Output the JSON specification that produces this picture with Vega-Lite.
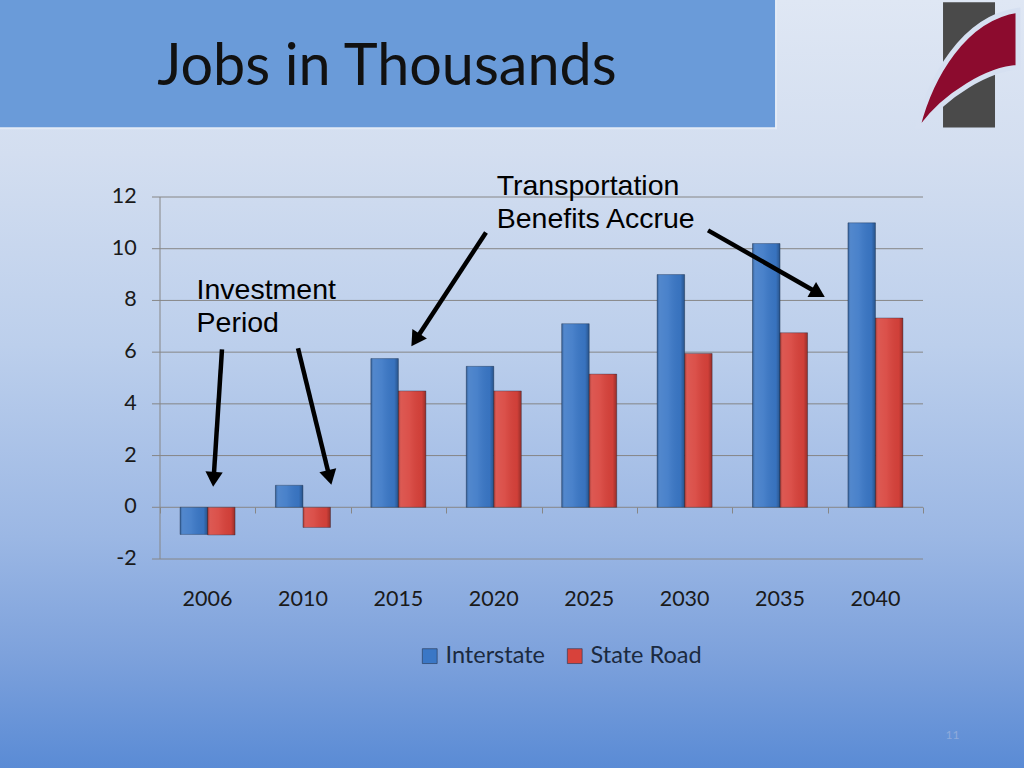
{
  "$schema": "https://vega.github.io/schema/vega-lite/v6.json",
  "width": 1024,
  "height": 768,
  "autosize": {"type": "none"},
  "padding": 0,
  "background": "#5a8bd5",
  "config": {
    "view": {
      "stroke": null,
      "fill": {
        "gradient": "linear", "x1": 0, "y1": 0, "x2": 0, "y2": 1,
        "stops": [
          {"offset": 0, "color": "#dfe7f4"},
          {"offset": 0.2, "color": "#d3def0"},
          {"offset": 0.45, "color": "#bccfec"},
          {"offset": 0.7, "color": "#9bb7e4"},
          {"offset": 0.85, "color": "#7ea2dc"},
          {"offset": 1, "color": "#5a8bd5"}
        ]
      }
    }
  },
  "datasets": {
    "jobs": [
      {"year": "2006", "series": "Interstate", "jobs": -1.05},
      {"year": "2006", "series": "State Road", "jobs": -1.07},
      {"year": "2010", "series": "Interstate", "jobs": 0.85},
      {"year": "2010", "series": "State Road", "jobs": -0.78},
      {"year": "2015", "series": "Interstate", "jobs": 5.75},
      {"year": "2015", "series": "State Road", "jobs": 4.5},
      {"year": "2020", "series": "Interstate", "jobs": 5.45},
      {"year": "2020", "series": "State Road", "jobs": 4.5},
      {"year": "2025", "series": "Interstate", "jobs": 7.1},
      {"year": "2025", "series": "State Road", "jobs": 5.15},
      {"year": "2030", "series": "Interstate", "jobs": 9.0},
      {"year": "2030", "series": "State Road", "jobs": 5.95},
      {"year": "2035", "series": "Interstate", "jobs": 10.2},
      {"year": "2035", "series": "State Road", "jobs": 6.75},
      {"year": "2040", "series": "Interstate", "jobs": 11.0},
      {"year": "2040", "series": "State Road", "jobs": 7.32}
    ],
    "grid": [{"v": -2}, {"v": 0}, {"v": 2}, {"v": 4}, {"v": 6}, {"v": 8}, {"v": 10}, {"v": 12}],
    "arrows": [
      {"note": "Investment Period", "x": 0.65, "y": 6.11, "x2": 0.562, "y2": 1.08},
      {"note": "Investment Period", "x": 1.447, "y": 6.15, "x2": 1.778, "y2": 1.15},
      {"note": "Transportation Benefits Accrue", "x": 3.418, "y": 10.63, "x2": 2.679, "y2": 6.47},
      {"note": "Transportation Benefits Accrue", "x": 5.746, "y": 10.71, "x2": 6.902, "y2": 8.28}
    ],
    "notes": [
      {"label": "Investment\nPeriod", "x": 0.383, "y": 8.04},
      {"label": "Transportation\nBenefits Accrue", "x": 3.53, "y": 12.06}
    ]
  },
  "resolve": {"scale": {"x": "independent"}, "axis": {"x": "independent"}},
  "layer": [
    {
      "layer": [
        {
          "data": {"values": [{"x": -1.7, "x2": 6.459, "y": 19.7, "y2": 14.66}]},
          "mark": {"type": "rect", "fill": "#6a9bd9", "stroke": "#e3ebf6", "strokeWidth": 2, "clip": false},
          "encoding": {
            "x": {"field": "x", "type": "quantitative", "scale": {"domain": [0, 8], "range": [160, 923], "nice": false, "zero": false},
                  "axis": {"orient": "bottom", "offset": -261, "values": [0, 1, 2, 3, 4, 5, 6, 7, 8], "labels": false, "domain": false, "grid": false, "tickSize": 6, "tickColor": "#868686", "title": null}},
            "x2": {"field": "x2"},
            "y": {"field": "y", "type": "quantitative", "axis": null},
            "y2": {"field": "y2"}
          }
        },
        {
          "data": {"values": [{"x": 8.21, "x2": 8.755, "y": 19.53, "y2": 14.69}]},
          "mark": {"type": "rect", "fill": "#4a4a4a", "clip": false},
          "encoding": {
            "x": {"field": "x", "type": "quantitative"},
            "x2": {"field": "x2"},
            "y": {"field": "y", "type": "quantitative", "axis": null},
            "y2": {"field": "y2"}
          }
        },
        {
          "data": {"values": [{"x": 8.472, "y": 16.976}]},
          "mark": {"type": "point", "shape": "M-1,1.16 C-0.75,0.2 -0.1,-1.0 1,-1.16 L1,-0.02 C0.4,0.02 -0.45,0.52 -0.92,1.16 Z", "size": 10000, "filled": true, "fill": "#8c0b2e", "stroke": "#d6e0f1", "strokeWidth": 5, "opacity": 1, "clip": false},
          "encoding": {
            "x": {"field": "x", "type": "quantitative"},
            "y": {"field": "y", "type": "quantitative", "axis": null}
          }
        },
        {
          "data": {"values": [{"label": "Jobs in Thousands", "x": -0.03, "y": 16.32}]},
          "mark": {"type": "text", "align": "left", "baseline": "alphabetic", "font": "Lato", "fontSize": 57.5, "color": "#111111", "clip": false},
          "encoding": {
            "x": {"field": "x", "type": "quantitative"},
            "y": {"field": "y", "type": "quantitative", "axis": null},
            "text": {"field": "label"}
          }
        },
        {
          "data": {"values": [{"label": "11", "x": 8.31, "y": -8.82}]},
          "mark": {"type": "text", "align": "center", "baseline": "middle", "font": "Lato", "fontSize": 12, "color": "#8eaadb"},
          "encoding": {
            "x": {"field": "x", "type": "quantitative"},
            "y": {"field": "y", "type": "quantitative", "axis": null},
            "text": {"field": "label"}
          }
        },
        {
          "data": {"name": "grid"},
          "mark": {"type": "rule", "color": "#868686", "strokeWidth": 1},
          "encoding": {
            "x": {"datum": -0.084, "type": "quantitative"},
            "x2": {"datum": 8},
            "y": {"field": "v", "type": "quantitative", "axis": null}
          }
        },
        {
          "data": {"name": "grid"},
          "mark": {"type": "text", "align": "right", "baseline": "middle", "font": "Lato", "fontSize": 21.5, "color": "#1a1a1a"},
          "encoding": {
            "x": {"datum": -0.245, "type": "quantitative"},
            "y": {"field": "v", "type": "quantitative", "axis": null},
            "text": {"field": "v", "type": "nominal"}
          }
        },
        {
          "data": {"values": [{"x": 0, "y": -2, "y2": 12}]},
          "mark": {"type": "rule", "color": "#868686", "strokeWidth": 1},
          "encoding": {
            "x": {"field": "x", "type": "quantitative"},
            "y": {"field": "y", "type": "quantitative", "axis": null},
            "y2": {"field": "y2"}
          }
        }
      ]
    },
    {
      "data": {"name": "jobs"},
      "layer": [
        {
          "mark": {"type": "bar", "stroke": "#1e2d44", "strokeWidth": 0.7, "strokeOpacity": 0.55},
          "encoding": {
            "x": {"field": "year", "type": "nominal", "sort": null,
                  "scale": {"range": [160, 923], "paddingInner": 0.4233, "paddingOuter": 0.21},
                  "axis": {"orient": "bottom", "offset": -209, "domain": false, "ticks": false, "grid": false, "labelPadding": 29, "labelFontSize": 21.5, "labelFont": "Lato", "labelColor": "#1a1a1a", "labelAngle": 0, "title": null}},
            "xOffset": {"field": "series", "type": "nominal", "sort": ["Interstate", "State Road"]},
            "y": {"field": "jobs", "type": "quantitative",
                  "scale": {"domain": [-2, 12], "range": [559, 197], "nice": false, "zero": false},
                  "axis": null},
            "color": {"field": "series", "type": "nominal",
                      "scale": {"domain": ["Interstate", "State Road"], "range": ["#3a77c6", "#d8423b"]},
                      "legend": {"orient": "none", "legendX": 418, "legendY": 644, "direction": "horizontal", "title": null, "labelFontSize": 23.5, "labelFont": "Lato", "labelColor": "#1b2a3f", "symbolType": "square", "symbolSize": 220, "symbolStrokeColor": "#23344f", "symbolStrokeWidth": 0.6, "columnPadding": 17, "labelOffset": 4}}
          }
        },
        {
          "mark": {"type": "bar", "fill": {
            "gradient": "linear", "x1": 0, "y1": 0, "x2": 1, "y2": 0,
            "stops": [
              {"offset": 0, "color": "rgba(0,0,0,0.28)"},
              {"offset": 0.1, "color": "rgba(255,255,255,0.12)"},
              {"offset": 0.4, "color": "rgba(255,255,255,0.08)"},
              {"offset": 0.85, "color": "rgba(0,0,0,0.04)"},
              {"offset": 1, "color": "rgba(0,0,0,0.3)"}
            ]
          }},
          "encoding": {
            "x": {"field": "year", "type": "nominal", "sort": null},
            "xOffset": {"field": "series", "type": "nominal", "sort": ["Interstate", "State Road"]},
            "y": {"field": "jobs", "type": "quantitative", "axis": null}
          }
        }
      ]
    },
    {
      "layer": [
        {
          "data": {"name": "arrows"},
          "mark": {"type": "rule", "color": "#000000", "strokeWidth": 4.5, "strokeCap": "butt"},
          "encoding": {
            "x": {"field": "x", "type": "quantitative", "scale": {"domain": [0, 8], "range": [160, 923], "nice": false, "zero": false}, "axis": null},
            "x2": {"field": "x2"},
            "y": {"field": "y", "type": "quantitative", "axis": null},
            "y2": {"field": "y2"}
          }
        },
        {
          "data": {"name": "arrows"},
          "transform": [
            {"calculate": "atan2(-(datum.x2 - datum.x) * 95.375, -(datum.y2 - datum.y) * 25.86) * 180 / PI", "as": "heading"}
          ],
          "mark": {"type": "point", "shape": "triangle-down", "size": 300, "filled": true, "fill": "#000000", "opacity": 1},
          "encoding": {
            "x": {"field": "x2", "type": "quantitative", "axis": null},
            "y": {"field": "y2", "type": "quantitative", "axis": null},
            "angle": {"field": "heading", "type": "quantitative", "scale": null}
          }
        },
        {
          "data": {"name": "notes"},
          "mark": {"type": "text", "align": "left", "baseline": "alphabetic", "lineBreak": "\n", "lineHeight": 33, "font": "Liberation Sans", "fontSize": 28.5, "color": "#000000", "clip": false},
          "encoding": {
            "x": {"field": "x", "type": "quantitative", "axis": null},
            "y": {"field": "y", "type": "quantitative", "axis": null},
            "text": {"field": "label"}
          }
        }
      ]
    }
  ]
}
